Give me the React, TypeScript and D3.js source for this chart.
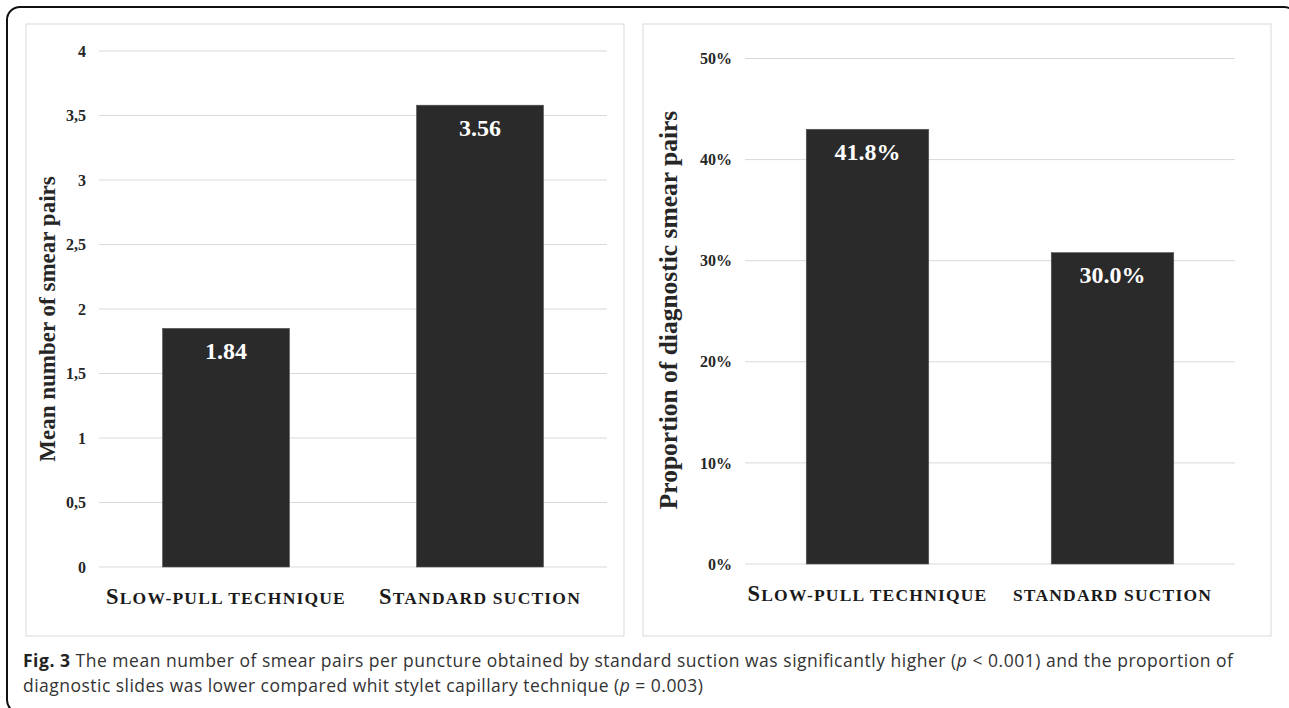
import React from 'react';
import * as d3 from 'd3';

const leftCategories = ['Slow-pull technique', 'Standard suction'];
const leftValues = [1.85, 3.58];
const leftLabels = ['1.84', '3.56'];
const leftTitle = 'Mean number of smear pairs';

const rightCategories = ['Slow-pull technique', 'standard suction'];
const rightValues = [0.43, 0.308];
const rightLabels = ['41.8%', '30.0%'];
const rightTitle = 'Proportion of diagnostic smear pairs';

const captionLine1 = ' The mean number of smear pairs per puncture obtained by standard suction was significantly higher (';
const captionLine1b = ' < 0.001) and the proportion of';
const captionLine2 = 'diagnostic slides was lower compared whit stylet capillary technique (';
const captionLine2b = ' = 0.003)';

const commaLocale = d3.formatLocale({ decimal: ',', thousands: '.', grouping: [3], currency: ['', ''] });
const serif = '"Liberation Serif", "Times New Roman", serif';
const sans = '"Open Sans", "Noto Sans", sans-serif';
const barColor = '#2a2a2a';
const gridColor = '#d9d9d9';

// fake small caps: capitals at full size, lower case letters as smaller capitals
function smallCaps(text, big, small) {
  const runs = [];
  for (const ch of text) {
    const isCap = ch !== ch.toLowerCase();
    const size = isCap ? big : small;
    const last = runs[runs.length - 1];
    if (last && last.size === size) last.text += ch.toUpperCase();
    else runs.push({ size, text: ch.toUpperCase() });
  }
  return runs.map((r, i) => (
    <tspan key={i} fontSize={r.size}>{r.text}</tspan>
  ));
}

function BarPanel({ panel, plot, categories, values, labels, ticks, tickFormat, domainMax, title, titleX, titleY, titleSize, catY }) {
  const x = d3.scaleBand()
    .domain(categories)
    .range([plot.left, plot.right])
    .paddingInner(0.5)
    .paddingOuter(0.25);
  const y = d3.scaleLinear().domain([0, domainMax]).range([plot.bottom, plot.top]);

  return (
    <g>
      <rect x={panel.x} y={panel.y} width={panel.w} height={panel.h} fill="#fff" stroke={gridColor} strokeWidth={1} />
      {ticks.map((t) => (
        <g key={t}>
          <line x1={plot.left} x2={plot.right} y1={y(t)} y2={y(t)} stroke={gridColor} strokeWidth={1} />
          <text
            x={plot.left - 13}
            y={y(t)}
            dy="0.35em"
            textAnchor="end"
            fontFamily={serif}
            fontWeight="bold"
            fontSize={16}
            fill="#262626"
          >
            {tickFormat(t)}
          </text>
        </g>
      ))}
      {categories.map((c, i) => {
        const bx = x(c);
        const top = y(values[i]);
        return (
          <g key={c}>
            <rect x={bx} y={top} width={x.bandwidth()} height={plot.bottom - top} fill={barColor} stroke="#555" strokeWidth={0.6} />
            <text
              x={bx + x.bandwidth() / 2}
              y={top + 22}
              dy="0.35em"
              textAnchor="middle"
              fontFamily={serif}
              fontWeight="bold"
              fontSize={24}
              fill="#fff"
            >
              {labels[i]}
            </text>
            <text
              x={bx + x.bandwidth() / 2}
              y={catY}
              dy="0.35em"
              textAnchor="middle"
              fontFamily={serif}
              fontWeight="bold"
              letterSpacing={1.2}
              fill="#1a1a1a"
            >
              {smallCaps(c, 22.5, 17.5)}
            </text>
          </g>
        );
      })}
      <text
        transform={`translate(${titleX},${titleY}) rotate(-90)`}
        textAnchor="middle"
        dy="0.35em"
        fontFamily={serif}
        fontWeight="bold"
        fontSize={titleSize}
        fill="#262626"
      >
        {title}
      </text>
    </g>
  );
}

export default function App() {
  const width = 1289;
  const height = 708;
  const leftTicks = d3.ticks(0, 4, 8);
  const rightTicks = d3.ticks(0, 0.5, 5);

  return (
    <svg
      width={width}
      height={height}
      style={{ position: 'absolute', left: 0, top: 0, background: '#fff' }}
    >
      <rect x={7} y={7} width={1290} height={706} rx={13} fill="#fff" stroke="#111" strokeWidth={2} />
      <BarPanel
        panel={{ x: 26, y: 24, w: 598, h: 612 }}
        plot={{ left: 99, right: 607, top: 51, bottom: 567 }}
        categories={leftCategories}
        values={leftValues}
        labels={leftLabels}
        ticks={leftTicks}
        tickFormat={commaLocale.format('')}
        domainMax={4}
        title={leftTitle}
        titleX={47}
        titleY={319}
        titleSize={23}
        catY={598}
      />
      <BarPanel
        panel={{ x: 643, y: 24, w: 628, h: 612 }}
        plot={{ left: 745, right: 1235, top: 58.5, bottom: 564 }}
        categories={rightCategories}
        values={rightValues}
        labels={rightLabels}
        ticks={rightTicks}
        tickFormat={d3.format('.0%')}
        domainMax={0.5}
        title={rightTitle}
        titleX={668}
        titleY={310}
        titleSize={25.5}
        catY={595}
      />
      <text x={23} y={661} dy="0.35em" fontFamily={sans} fontSize={17.5} fill="#333" textLength={1210} lengthAdjust="spacing">
        <tspan fontWeight="bold" fill="#222">Fig. 3</tspan>
        <tspan>{captionLine1}</tspan>
        <tspan fontStyle="italic">p</tspan>
        <tspan>{captionLine1b}</tspan>
      </text>
      <text x={23} y={686} dy="0.35em" fontFamily={sans} fontSize={17.5} fill="#333" textLength={680} lengthAdjust="spacing">
        <tspan>{captionLine2}</tspan>
        <tspan fontStyle="italic">p</tspan>
        <tspan>{captionLine2b}</tspan>
      </text>
    </svg>
  );
}
